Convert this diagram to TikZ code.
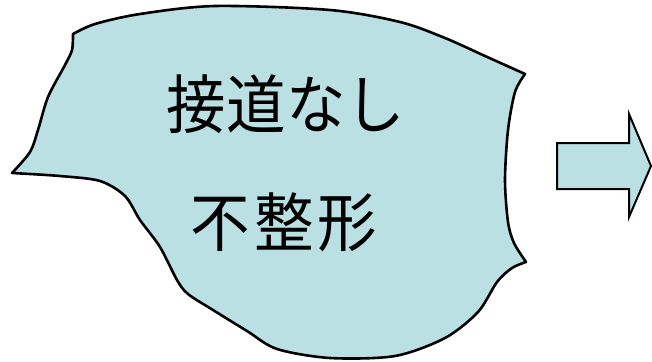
\documentclass[tikz,border=0pt]{standalone}
\usepackage{fontspec}
\usepackage{xcolor}
\newfontfamily\jpfont[FakeStretch=0.93]{Noto Sans CJK JP}
\definecolor{lotblue}{RGB}{186,224,228}

\begin{document}
\begin{tikzpicture}[x=1pt, y=-1pt,
        lot/.style={draw=black, line width=2.6pt, line join=round, fill=lotblue},
        blockarrow/.style={draw=black, line width=2pt, line join=miter, fill=lotblue},
        lottext/.style={font=\jpfont\fontsize{64}{68}\selectfont, inner sep=0pt}]
        \useasboundingbox (0,0) rectangle (652,361);

        % Draw the irregular lot
        \draw[lot]
            plot[smooth, tension=0.5] coordinates {(73,34) (95,24) (140,14) (215,6) (330,10) (400,22) (445,38) (485,56) (525,74)}
            -- plot[smooth, tension=0.5] coordinates {(525,74) (515,92) (508,130) (505,180) (508,222) (514,243) (526,262)}
            -- plot[smooth, tension=0.5] coordinates {(526,262) (512,268) (497,282) (478,312) (445,338) (395,356) (330,358) (277,349) (247,331) (213,310) (188,294) (177,280) (160,247) (140,220) (125,196) (100,181) (60,176) (12,173)}
            -- plot[smooth, tension=0.5] coordinates {(12,173) (30,152) (38,130) (48,97) (65,65) (72,50) (73,34)}
            -- cycle;

        % Add the labels inside the lot
        \node[lottext] (noroad) at (286,104) {接道なし};
        \node[lottext] (irregular) at (284,222) {不\hspace{4pt}整\hspace{4pt}形};

        % Draw the arrow
        \draw[blockarrow] (557,143) -- (629,143) -- (629,114) -- (651,166)
            -- (629,217) -- (629,189) -- (557,189) -- cycle;

    \end{tikzpicture}
\end{document}
